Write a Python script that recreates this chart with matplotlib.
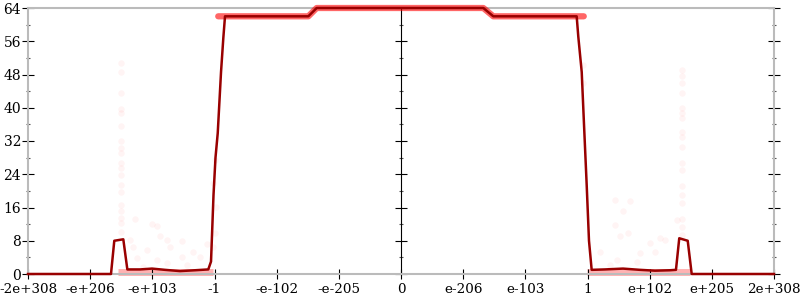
"""
error plot: averaged bits of error over the float input range, with the
individual sampled points drawn faintly behind.  saves to out.png.
"""

import matplotlib
matplotlib.use("Agg")
import matplotlib.pyplot as plt
from matplotlib.ticker import MultipleLocator, NullFormatter

# x positions are in tick units (ordinal float scale), -6 .. 6
tick_pos = list(range(-6, 7))
tick_labels = ["-2e+308", "-e+206", "-e+103", "-1", "-e-102", "-e-205", "0",
               "e-206", "e-103", "1", "e+102", "e+205", "2e+308"]

# averaged error (bits)
line_x = [-6.0, -4.665, -4.612, -4.467, -4.402, -4.198, -4.005, -3.796, -3.555,
          -3.314, -3.100, -3.056, -3.016, -2.984, -2.948, -2.895, -2.858, -2.831,
          -1.491, -1.356, 1.324, 1.485, 2.826, 2.852, 2.907, 2.944, 2.987, 3.024,
          3.067, 3.281, 3.571, 3.844, 4.086, 4.327, 4.423, 4.476, 4.612, 4.676, 6.0]
line_y = [0, 0, 8.0, 8.35, 1.1, 1.1, 1.3, 1.0, 0.7,
          0.9, 1.1, 3.0, 19.0, 28.0, 33.9, 48.6, 56.8, 62.0,
          62.0, 64.0, 64.0, 62.0, 62.0, 57.1, 48.6, 35.9, 21.4, 8.0,
          1.0, 1.1, 1.3, 1.0, 0.8, 0.9, 1.0, 8.6, 8.0, 0, 0]

# dense bands of overlapping samples
top_band_x = [-2.94, -1.491, -1.356, 1.324, 1.485, 2.94]
top_band_y = [62, 62, 64, 64, 62, 62]
low_left_x = [-4.55, -3.02]
low_left_y = [0.5, 0.5]
low_right_x = [2.99, 4.65]
low_right_y = [0.5, 0.5]

# sparse samples
col_left_y = [50.7, 48.5, 43.6, 39.6, 38.8, 35.6, 32.1, 30.4, 29.0, 26.8, 25.4,
              23.8, 21.4, 19.8, 16.6, 15.2, 13.4, 12.2, 10.2]
col_right_y = [49.1, 47.6, 46.0, 43.6, 39.9, 38.7, 37.5, 34.2, 33.0, 30.6, 26.7,
               25.0, 21.2, 19.0, 17.0, 13.2, 11.4, 9.4]
pts_x = [-4.279, -4.010, -3.930, -3.527, -3.877, -3.769, -3.716, -4.090, -3.341,
         -3.125, -4.306, -4.251, -3.930, -3.527, -3.233, -4.359, -3.447, -3.769,
         -4.145, -3.019, -2.992, -2.976, -2.992, -3.019,
         3.442, 3.576, 3.683, 3.442, 3.656, 3.523, 4.166, 4.246, 4.005, 4.086,
         3.844, 3.201, 3.470, 3.791, 3.362, 4.435, 2.932, 2.927]
pts_y = [13.2, 12.0, 11.5, 8.0, 9.1, 8.3, 6.4, 5.8, 5.3,
         7.2, 6.6, 3.8, 3.4, 4.2, 4.2, 8.2, 2.2, 2.6,
         1.8, 21.8, 27.4, 16.2, 9.8, 6.6,
         17.8, 15.2, 17.6, 11.8, 9.9, 9.1, 8.6, 8.3, 7.4, 5.4,
         5.0, 5.4, 3.4, 3.0, 2.2, 13.0, 50.3, 46.0]

plt.rcParams["font.family"] = "DejaVu Serif"
fig = plt.figure(figsize=(8, 3), dpi=100)
ax = fig.add_axes([28 / 800, 26 / 300, 746 / 800, 266 / 300])

pt_style = dict(s=22, color="red", alpha=0.045, linewidths=0, zorder=1)
ax.scatter([-4.51] * len(col_left_y), col_left_y, **pt_style)
ax.scatter([4.52] * len(col_right_y), col_right_y, **pt_style)
ax.scatter(pts_x, pts_y, **pt_style)

ax.plot(low_left_x, low_left_y, color="red", alpha=0.3, lw=5,
        solid_capstyle="butt", clip_on=False, zorder=1.5)
ax.plot(low_right_x, low_right_y, color="red", alpha=0.3, lw=5,
        solid_capstyle="butt", clip_on=False, zorder=1.5)
ax.plot(top_band_x, top_band_y, color="red", alpha=0.6, lw=4.5,
        solid_capstyle="round", clip_on=False, zorder=2.6)
ax.plot(line_x, line_y, color="#990000", lw=1.8, clip_on=False, zorder=3)

ax.set_xlim(-6, 6)
ax.set_ylim(0, 64)
ax.set_xticks(tick_pos)
ax.set_xticklabels(tick_labels, fontsize=9.7)
ax.yaxis.set_major_locator(MultipleLocator(8))
ax.yaxis.set_minor_locator(MultipleLocator(4))
ax.tick_params(axis="y", which="major", direction="inout", length=8, width=0.8,
               left=True, right=True, labelsize=10, pad=1)
ax.tick_params(axis="y", which="minor", direction="inout", length=3, width=0.8,
               left=True, right=True, color="#555555")
ax.tick_params(axis="x", which="major", direction="inout", length=7, width=0.8,
               pad=3)

for sp in ax.spines.values():
    sp.set_color("#bbbbbb")
    sp.set_linewidth(1.5)

# middle axis at x = 0, ticks only
mid = ax.secondary_yaxis(0.5)
mid.yaxis.set_major_locator(MultipleLocator(8))
mid.yaxis.set_minor_locator(MultipleLocator(4))
mid.yaxis.set_major_formatter(NullFormatter())
mid.tick_params(which="major", direction="inout", length=8, width=0.8)
mid.tick_params(which="minor", direction="inout", length=3, width=0.8,
                color="#555555")
mid.spines["left"].set_color("#bbbbbb")
mid.spines["left"].set_linewidth(1.5)

fig.savefig("out.png", dpi=100)
